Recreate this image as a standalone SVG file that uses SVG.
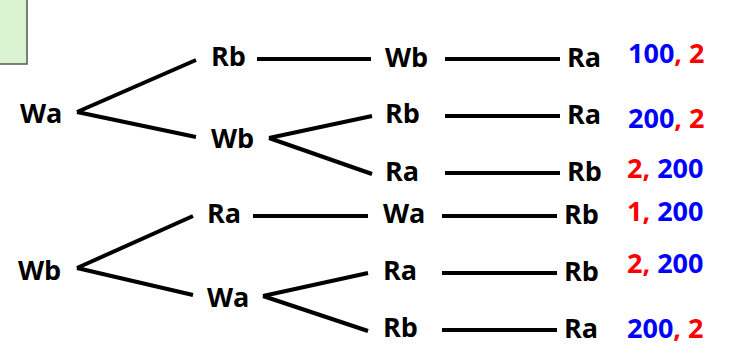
<svg xmlns="http://www.w3.org/2000/svg" width="739" height="364" viewBox="0 0 739 364">
<style>
  .t { font-family: "Open Sans", "Liberation Sans", sans-serif; font-weight: bold; font-size: 27px; fill: #000; }
  .b { fill: #0000ff; }
  .r { fill: #ff0000; }
  .c line { stroke: #000; stroke-width: 4; stroke-linecap: butt; }
</style>
<rect width="739" height="364" fill="#fff"/>
<rect x="-2" y="-2" width="29" height="66" fill="#d9f2d0" stroke="#555" stroke-width="1.5"/>
<g class="c" id="connectors">
  <line x1="77" y1="112" x2="196" y2="60"/>
  <line x1="77" y1="112" x2="196" y2="137"/>
  <line x1="257" y1="59" x2="371" y2="59"/>
  <line x1="445" y1="59" x2="560" y2="59"/>
  <line x1="269" y1="138" x2="372" y2="116"/>
  <line x1="269" y1="138" x2="372" y2="174"/>
  <line x1="445" y1="116" x2="560" y2="116"/>
  <line x1="445" y1="173" x2="560" y2="173"/>
  <line x1="77" y1="268" x2="193" y2="216"/>
  <line x1="77" y1="268" x2="193" y2="295"/>
  <line x1="253" y1="216" x2="368" y2="216"/>
  <line x1="442" y1="216" x2="557" y2="216"/>
  <line x1="263" y1="296" x2="368" y2="273"/>
  <line x1="263" y1="296" x2="368" y2="331"/>
  <line x1="442" y1="273" x2="557" y2="273"/>
  <line x1="442" y1="330" x2="557" y2="330"/>
</g>
<g id="n-wa1"><text class="t" x="20" y="123">Wa</text></g>
<g id="n-rb1"><text class="t" x="211" y="66">Rb</text></g>
<g id="n-wb1"><text class="t" x="211" y="148">Wb</text></g>
<g id="n-wb2"><text class="t" x="385" y="67">Wb</text></g>
<g id="n-rb2"><text class="t" x="385" y="123">Rb</text></g>
<g id="n-ra2"><text class="t" x="385" y="181">Ra</text></g>
<g id="n-ra3"><text class="t" x="567" y="67">Ra</text></g>
<g id="n-ra4"><text class="t" x="567" y="124">Ra</text></g>
<g id="n-rb4"><text class="t" x="567" y="181">Rb</text></g>
<g id="p1"><text class="t" x="628" y="63"><tspan class="b">100</tspan><tspan class="r">, 2</tspan></text></g>
<g id="p2"><text class="t" x="628" y="128"><tspan class="b">200</tspan><tspan class="r">, 2</tspan></text></g>
<g id="p3"><text class="t" x="627" y="178"><tspan class="r">2, </tspan><tspan class="b">200</tspan></text></g>
<g id="n-wb5"><text class="t" x="18" y="280">Wb</text></g>
<g id="n-ra5"><text class="t" x="207" y="223">Ra</text></g>
<g id="n-wa5"><text class="t" x="207" y="307">Wa</text></g>
<g id="n-wa6"><text class="t" x="383" y="223">Wa</text></g>
<g id="n-ra6"><text class="t" x="383" y="280">Ra</text></g>
<g id="n-rb6"><text class="t" x="383" y="337">Rb</text></g>
<g id="n-rb7"><text class="t" x="564" y="224">Rb</text></g>
<g id="n-rb8"><text class="t" x="564" y="281">Rb</text></g>
<g id="n-ra8"><text class="t" x="564" y="338">Ra</text></g>
<g id="p4"><text class="t" x="627" y="221"><tspan class="r">1, </tspan><tspan class="b">200</tspan></text></g>
<g id="p5"><text class="t" x="627" y="273"><tspan class="r">2, </tspan><tspan class="b">200</tspan></text></g>
<g id="p6"><text class="t" x="627" y="338"><tspan class="b">200</tspan><tspan class="r">, 2</tspan></text></g>
</svg>
